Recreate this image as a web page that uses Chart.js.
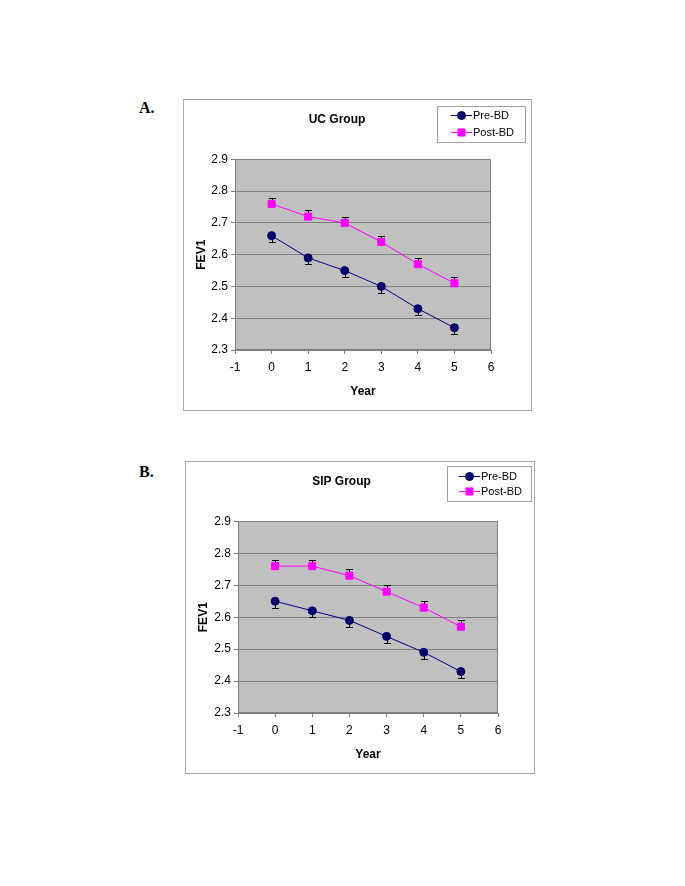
<!DOCTYPE html>
<html>
<head>
<meta charset="utf-8">
<script src="https://cdn.jsdelivr.net/npm/chart.js@4/dist/chart.umd.min.js"></script>
<style>
  body { margin: 0; background: #fff; width: 685px; height: 886px; position: relative; overflow: hidden; }
  canvas { position: absolute; }
  .tag { position: absolute; font: bold 16px 'Liberation Serif', 'Times New Roman', serif; line-height: 1; color: #000; }
</style>
</head>
<body>
<div class="tag" style="left:139px; top:100px;">A.</div>
<canvas id="ucChart" width="349" height="312" style="left:183px; top:99px;"></canvas>
<div class="tag" style="left:139px; top:464px;">B.</div>
<canvas id="sipChart" width="350" height="313" style="left:185px; top:461px;"></canvas>
<script>
// data
const years = [0, 1, 2, 3, 4, 5];
const ucPre = [2.66, 2.59, 2.55, 2.50, 2.43, 2.37];
const ucPreErr = [0.02, 0.02, 0.02, 0.02, 0.02, 0.02];
const ucPost = [2.76, 2.72, 2.70, 2.64, 2.57, 2.51];
const ucPostErr = [0.02, 0.02, 0.02, 0.02, 0.02, 0.02];
const sipPre = [2.65, 2.62, 2.59, 2.54, 2.49, 2.43];
const sipPreErr = [0.02, 0.02, 0.02, 0.02, 0.02, 0.02];
const sipPost = [2.76, 2.76, 2.73, 2.68, 2.63, 2.57];
const sipPostErr = [0.02, 0.02, 0.02, 0.02, 0.02, 0.02];
const seriesNames = ['Pre-BD', 'Post-BD'];
const xMin = -1, xMax = 6;
const yMin = 2.3, yMax = 2.9;

const FONT = "'Liberation Sans', Arial, sans-serif";
Chart.defaults.font.family = FONT;
Chart.defaults.color = '#000';

// white box, grey plot area
const frame = {
  id: 'frame',
  beforeDraw(chart) {
    const { ctx, width, height, chartArea: a } = chart;
    ctx.save();
    ctx.fillStyle = '#fff';
    ctx.fillRect(0, 0, width, height);
    ctx.strokeStyle = '#a8a8a8';
    ctx.lineWidth = 1;
    ctx.strokeRect(0.5, 0.5, width - 1, height - 1);
    ctx.fillStyle = '#c0c0c0';
    ctx.fillRect(a.left, a.top, a.right - a.left, a.bottom - a.top);
    ctx.restore();
  },
  beforeDatasetsDraw(chart) {
    const { ctx, chartArea: a, scales } = chart;
    ctx.save();
    ctx.strokeStyle = '#808080';
    ctx.lineWidth = 1;
    ctx.strokeRect(Math.round(a.left) + 0.5, Math.round(a.top) + 0.5,
      Math.round(a.right - a.left) - 1, Math.round(a.bottom - a.top) - 1);
    // error bars, under the markers
    ctx.strokeStyle = '#000';
    chart.data.datasets.forEach((ds) => {
      ds.data.forEach((p, i) => {
        const x = Math.round(scales.x.getPixelForValue(p.x)) + 0.5;
        const y0 = scales.y.getPixelForValue(p.y);
        const end = ds.errDir < 0 ? p.y - ds.err[i] : p.y + ds.err[i];
        const y1 = Math.round(scales.y.getPixelForValue(end)) + 0.5;
        ctx.beginPath();
        ctx.moveTo(x, y0);
        ctx.lineTo(x, y1);
        ctx.moveTo(x - 3.5, y1);
        ctx.lineTo(x + 3.5, y1);
        ctx.stroke();
      });
    });
    ctx.restore();
  }
};

// Excel-style legend box
const boxLegend = {
  id: 'boxLegend',
  afterDraw(chart, args, opts) {
    const { ctx } = chart;
    ctx.save();
    ctx.fillStyle = '#fff';
    ctx.fillRect(opts.left, opts.top, opts.width, opts.height);
    ctx.strokeStyle = '#a0a0a0';
    ctx.lineWidth = 1;
    ctx.strokeRect(opts.left + 0.5, opts.top + 0.5, opts.width - 1, opts.height - 1);
    ctx.font = '11px ' + FONT;
    ctx.textBaseline = 'middle';
    chart.data.datasets.forEach((ds, i) => {
      const y = opts.top + opts.rows[i];
      const x0 = opts.left + opts.lineX;
      ctx.strokeStyle = ds.borderColor;
      ctx.beginPath();
      ctx.moveTo(x0, y + 0.5);
      ctx.lineTo(x0 + 21, y + 0.5);
      ctx.stroke();
      ctx.fillStyle = ds.pointBackgroundColor;
      ctx.strokeStyle = ds.pointBorderColor;
      Chart.helpers.drawPoint(ctx, { pointStyle: ds.pointStyle, radius: ds.pointRadius, borderWidth: 1, rotation: 0 }, x0 + 10.5, y + 0.5);
      ctx.fillStyle = '#000';
      ctx.fillText(ds.label, x0 + 22, y + 1);
    });
    ctx.restore();
  }
};

function makeChart(id, title, pre, preErr, post, postErr, lay) {
  const toPts = (vals) => years.map((yr, i) => ({ x: yr, y: vals[i] }));
  return new Chart(document.getElementById(id), {
    type: 'line',
    data: {
      datasets: [
        {
          label: seriesNames[0],
          data: toPts(pre),
          err: preErr,
          errDir: -1,
          borderColor: '#000080',
          borderWidth: 1,
          pointStyle: 'circle',
          pointRadius: 4,
          pointBackgroundColor: '#000066',
          pointBorderColor: '#000066',
        },
        {
          label: seriesNames[1],
          data: toPts(post),
          err: postErr,
          errDir: 1,
          borderColor: '#ff00ff',
          borderWidth: 1,
          pointStyle: 'rect',
          pointRadius: 5,
          pointBackgroundColor: '#ff00ff',
          pointBorderColor: '#ff00ff',
        },
      ],
    },
    options: {
      responsive: false,
      animation: false,
      events: [],
      layout: { padding: { top: 0, left: 0, right: lay.padRight, bottom: 0 } },
      plugins: {
        legend: { display: false },
        tooltip: { enabled: false },
        title: {
          display: true,
          text: title,
          color: '#000',
          font: { size: 12, weight: 'bold' },
          padding: { top: 13, bottom: 33 },
        },
        boxLegend: lay.legend,
      },
      scales: {
        x: {
          type: 'linear',
          min: xMin,
          max: xMax,
          ticks: { stepSize: 1, font: { size: 12 }, padding: 6, color: '#000' },
          grid: { drawOnChartArea: false, tickLength: 4, color: '#808080' },
          border: { color: '#808080' },
          title: { display: true, text: 'Year', font: { size: 12, weight: 'bold' }, padding: { top: 4, bottom: 12 } },
          afterFit: (s) => { s.height = 61; },
        },
        y: {
          min: yMin,
          max: yMax,
          ticks: { stepSize: 0.1, font: { size: 12 }, padding: 3, color: '#000', callback: (v) => v.toFixed(1) },
          grid: { color: '#808080', tickLength: 4 },
          border: { color: '#808080' },
          title: { display: true, text: 'FEV1', font: { size: 12, weight: 'bold' }, padding: { top: 11, bottom: 4 } },
          afterFit: (s) => { s.width = lay.yWidth; },
        },
      },
    },
    plugins: [frame, boxLegend],
  });
}

makeChart('ucChart', 'UC Group', ucPre, ucPreErr, ucPost, ucPostErr, {
  padRight: 41, yWidth: 52,
  legend: { left: 254, top: 7, width: 89, height: 37, rows: [9, 26], lineX: 14 },
});
makeChart('sipChart', 'SIP Group', sipPre, sipPreErr, sipPost, sipPostErr, {
  padRight: 37, yWidth: 53,
  legend: { left: 262, top: 5, width: 85, height: 36, rows: [10, 25], lineX: 12 },
});
</script>
</body>
</html>
